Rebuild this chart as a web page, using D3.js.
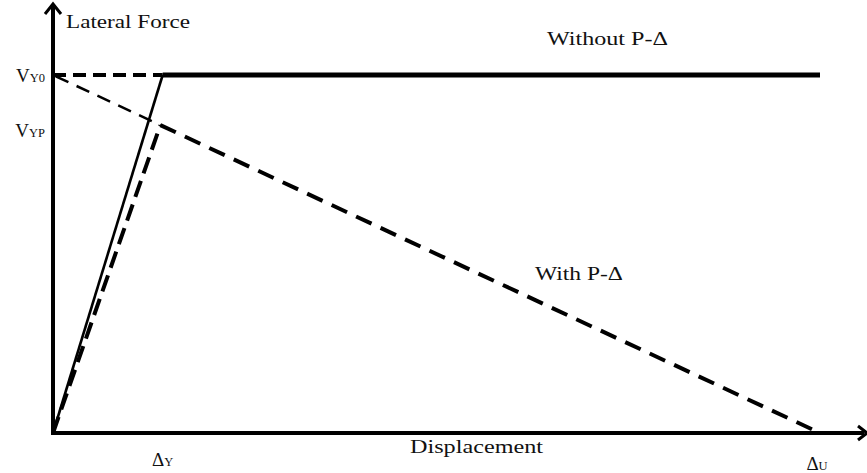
<!DOCTYPE html>
<html>
<head>
<meta charset="utf-8">
<script src="https://cdn.jsdelivr.net/npm/d3@7"></script>
<style>
  html, body { margin: 0; padding: 0; background: #fff; }
  svg { display: block; }
  text { font-family: "Liberation Serif", "DejaVu Serif", serif; fill: #111; }
</style>
</head>
<body>
<svg id="chart" width="867" height="473"></svg>
<script>
// ---- data (normalised units: displacement 0..100, force 0..100) ----
const dispYield = 14.3;      // Δ_Y
const dispYieldP = 14.0;     // yield displacement with P-Δ
const dispUlt = 100;         // Δ_U
const forceY0 = 100;         // V_Y0
const forceYP = 86;          // V_YP

const withoutPDelta = [[0, 0], [dispYield, forceY0], [dispUlt, forceY0]];
const withPDeltaElastic = [[0, 0], [dispYieldP, forceYP]];
const withPDeltaPost = [[dispYieldP, forceYP], [dispUlt, 0]];
const guideV0 = [[0, forceY0], [dispYield, forceY0]];
const guidePDelta = [[0, forceY0], [dispYieldP, forceYP]];

const yTickValues = [forceY0, forceYP];
const yTickMain = ["V", "V"];
const yTickSub = ["Y0", "YP"];
const xTickValues = [dispYield, dispUlt];
const xTickMain = ["Δ", "Δ"];
const xTickSub = ["Y", "U"];

const axisTitleX = "Displacement";
const axisTitleY = "Lateral Force";
const seriesLabels = ["Without P-Δ", "With P-Δ"];

// ---- layout ----
const svg = d3.select("#chart");
const x = d3.scaleLinear().domain([0, dispUlt]).range([53, 820]);
const y = d3.scaleLinear().domain([0, forceY0]).range([433, 75]);
const line = d3.line().x(d => x(d[0])).y(d => y(d[1]));

// axes
const x0 = x(0), y0 = y(0);
svg.append("line").attr("x1", x0).attr("y1", y0).attr("x2", 864).attr("y2", y0)
  .attr("stroke", "#000").attr("stroke-width", 4);
svg.append("line").attr("x1", x0).attr("y1", y0 + 2).attr("x2", x0).attr("y2", 6)
  .attr("stroke", "#000").attr("stroke-width", 4);
// arrowheads
svg.append("path").attr("d", `M${x0 - 8},${14} L${x0},${4} L${x0 + 8},${14}`)
  .attr("fill", "none").attr("stroke", "#000").attr("stroke-width", 3);
svg.append("path").attr("d", `M${858},${y0 - 7} L${867},${y0} L${858},${y0 + 7}`)
  .attr("fill", "none").attr("stroke", "#000").attr("stroke-width", 3);

// guide lines
svg.append("path").datum(guideV0).attr("d", line)
  .attr("fill", "none").attr("stroke", "#000").attr("stroke-width", 4)
  .attr("stroke-dasharray", "13,7");
svg.append("path").datum(guidePDelta).attr("d", line)
  .attr("fill", "none").attr("stroke", "#000").attr("stroke-width", 2.5)
  .attr("stroke-dasharray", "14,9").attr("stroke-dashoffset", -3);

// with P-Δ (dashed)
svg.append("path").datum(withPDeltaElastic).attr("d", line)
  .attr("fill", "none").attr("stroke", "#000").attr("stroke-width", 4)
  .attr("stroke-dasharray", "17,8");
svg.append("path").datum(withPDeltaPost).attr("d", line)
  .attr("fill", "none").attr("stroke", "#000").attr("stroke-width", 4)
  .attr("stroke-dasharray", "17,10");

// without P-Δ (solid): thin elastic branch, thick plateau
svg.append("path").datum(withoutPDelta.slice(0, 2)).attr("d", line)
  .attr("fill", "none").attr("stroke", "#000").attr("stroke-width", 2.6);
svg.append("path").datum(withoutPDelta.slice(1)).attr("d", line)
  .attr("fill", "none").attr("stroke", "#000").attr("stroke-width", 5)
  .attr("stroke-linecap", "butt");

// y tick labels
const yDy = [7, 12];
yTickValues.forEach((v, i) => {
  const t = svg.append("text").attr("x", 45).attr("y", y(v) + yDy[i])
    .attr("text-anchor", "end").attr("font-size", 19);
  t.append("tspan").text(yTickMain[i]);
  t.append("tspan").attr("font-size", 12.5).text(yTickSub[i]);
});

// x tick labels
const xDy = [33, 37];
const xDx = [0, -3];
xTickValues.forEach((v, i) => {
  const t = svg.append("text").attr("x", x(v) + xDx[i]).attr("y", y0 + xDy[i])
    .attr("text-anchor", "middle").attr("font-size", 19);
  t.append("tspan").text(xTickMain[i]);
  t.append("tspan").attr("font-size", 12.5).text(xTickSub[i]);
});

// axis titles
svg.append("text").attr("x", 66).attr("y", 28).attr("font-size", 19)
  .attr("textLength", 124).attr("lengthAdjust", "spacingAndGlyphs").text(axisTitleY);
svg.append("text").attr("x", 410).attr("y", 453).attr("font-size", 19)
  .attr("textLength", 133).attr("lengthAdjust", "spacingAndGlyphs").text(axisTitleX);

// series labels
svg.append("text").attr("x", 547).attr("y", 45).attr("font-size", 19)
  .attr("textLength", 121).attr("lengthAdjust", "spacingAndGlyphs").text(seriesLabels[0]);
svg.append("text").attr("x", 535).attr("y", 280).attr("font-size", 19)
  .attr("textLength", 88).attr("lengthAdjust", "spacingAndGlyphs").text(seriesLabels[1]);
</script>
</body>
</html>
